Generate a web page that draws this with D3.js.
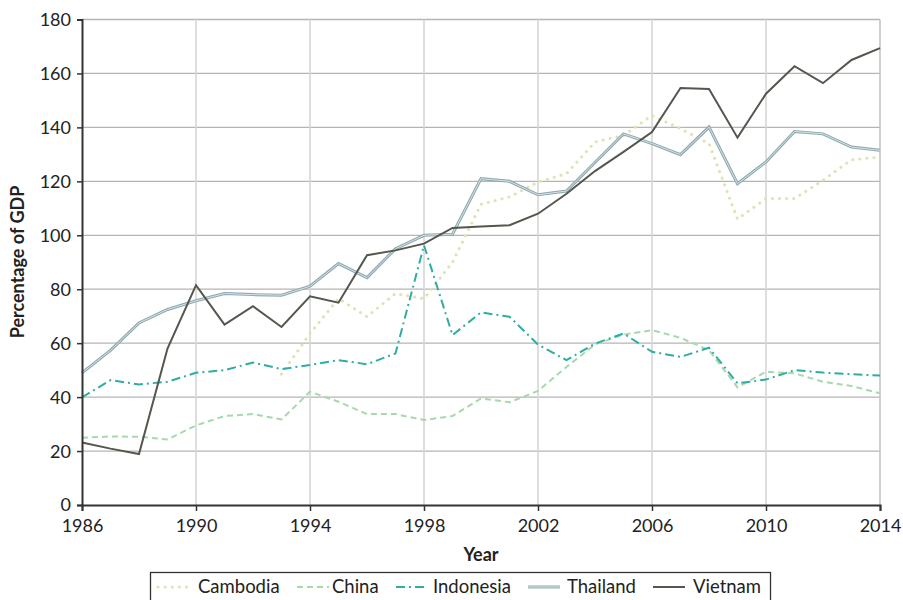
<!DOCTYPE html>
<html>
<head>
<meta charset="utf-8">
<script src="https://cdn.jsdelivr.net/npm/d3@7"></script>
<style>
  html, body { margin: 0; padding: 0; background: #fff; }
  svg { display: block; }
  text { font-family: Lato, "Open Sans", sans-serif; fill: #222; }
</style>
</head>
<body>
<svg id="chart" width="903" height="600"></svg>
<script>
const years = d3.range(1986, 2015);
const xTickValues = [1986, 1990, 1994, 1998, 2002, 2006, 2010, 2014];
const yTickValues = [0, 20, 40, 60, 80, 100, 120, 140, 160, 180];

const cambodia = [null, null, null, null, null, null, null, 48.5, 63.6, 76.5, 69.8, 78.4, 76.5, 90, 111.5, 114.2, 119.7, 122.8, 134.6, 137, 144.4, 139.5, 134, 106, 113.6, 113.6, 120.4, 128, 129];
const china = [24.9, 25.4, 25.3, 24.3, 29.5, 33, 33.7, 31.7, 42, 38.3, 33.7, 33.7, 31.5, 33, 39.5, 38.1, 42.3, 51.2, 59.5, 63.2, 64.8, 62, 57.4, 43.6, 49.4, 48.8, 45.7, 44.1, 41.4];
const indonesia = [39.9, 46.3, 44.7, 45.7, 49, 50, 52.8, 50.4, 51.9, 53.7, 52.2, 56.2, 96.3, 63, 71.4, 69.8, 59.5, 53.7, 59.8, 63.6, 56.8, 54.9, 58.3, 45.1, 46.5, 50, 49.1, 48.5, 48];
const thailand = [49, 57.3, 67.5, 72.5, 75.7, 78.4, 78, 77.8, 81.1, 89.5, 84.3, 95, 100, 100.4, 121, 120, 115, 116.4, 127, 137.6, 134, 129.9, 140.1, 119.1, 127.2, 138.5, 137.6, 132.7, 131.5];
const vietnam = [23.2, 20.9, 18.9, 58, 81.5, 66.9, 73.7, 66, 77.4, 75, 92.6, 94.4, 96.9, 102.7, 103.3, 103.7, 108, 115.4, 123.8, 130.9, 138.3, 154.6, 154.2, 136.2, 152.5, 162.7, 156.4, 165, 169.4];

const seriesNames = ["Cambodia", "China", "Indonesia", "Thailand", "Vietnam"];
const seriesValues = [cambodia, china, indonesia, thailand, vietnam];

const styles = {
  Cambodia: [{ stroke: "#dde3b3", width: 3, dash: "0.1 7", cap: "round" }],
  China: [{ stroke: "#a6d9ab", width: 2, dash: "6 4", cap: "butt" }],
  Indonesia: [{ stroke: "#2fada3", width: 2, dash: "9 4 2 4", cap: "butt" }],
  Thailand: [{ stroke: "#8ea8b0", width: 3, dash: null, cap: "butt" }, { stroke: "#d6e3e6", width: 1, dash: null, cap: "butt" }],
  Vietnam: [{ stroke: "#54574d", width: 2, dash: null, cap: "butt" }]
};

const svg = d3.select("#chart");
const x = d3.scaleLinear().domain([1986, 2014]).range([82, 880]);
const y = d3.scaleLinear().domain([0, 180]).range([505, 19.5]);

// grid
const grid = svg.append("g");
grid.selectAll("line.h").data(yTickValues.filter(v => v > 0)).enter().append("line")
  .attr("x1", x(1986)).attr("x2", x(2014))
  .attr("y1", d => y(d)).attr("y2", d => y(d))
  .attr("stroke", "#b5b5b5").attr("stroke-width", 1.3);
grid.selectAll("line.v").data(xTickValues.filter(v => v > 1986)).enter().append("line")
  .attr("x1", d => x(d)).attr("x2", d => x(d))
  .attr("y1", y(180)).attr("y2", y(0))
  .attr("stroke", d => d === 2014 ? "#c4c4c4" : "#d6d6d6").attr("stroke-width", 1.6);

// lines
const line = d3.line().defined(d => d[1] != null).x(d => x(d[0])).y(d => y(d[1]));
const linesG = svg.append("g");
seriesNames.forEach((name, i) => {
  const pts = years.map((yr, j) => [yr, seriesValues[i][j]]);
  styles[name].forEach(s => {
    linesG.append("path").datum(pts)
      .attr("d", line)
      .attr("fill", "none")
      .attr("stroke", s.stroke)
      .attr("stroke-width", s.width)
      .attr("stroke-dasharray", s.dash)
      .attr("stroke-linecap", s.cap)
      .attr("stroke-linejoin", "miter");
  });
});

// axes
const xAxis = d3.axisBottom(x).tickValues(xTickValues).tickFormat(d3.format("d")).tickSizeOuter(0).tickSize(6).tickPadding(6);
const yAxis = d3.axisLeft(y).tickValues(yTickValues).tickSizeOuter(0).tickSize(5).tickPadding(6);
const gx = svg.append("g").attr("transform", `translate(0,${y(0)})`).call(xAxis);
const gy = svg.append("g").attr("transform", `translate(${x(1986)},0)`).call(yAxis);
[gx, gy].forEach(g => {
  g.select(".domain").attr("stroke", "#333").attr("stroke-width", 2);
  g.selectAll(".tick line").attr("stroke", "#333").attr("stroke-width", 1.5);
  g.selectAll(".tick text").attr("font-size", 18).attr("fill", "#222")
    .style("font-family", 'Lato, "Open Sans", sans-serif');
});
gy.selectAll(".tick text").attr("dy", "0.33em");
gx.selectAll(".tick text").attr("dy", "0.85em");

// axis titles
svg.append("text").attr("x", 481).attr("y", 561).attr("text-anchor", "middle")
  .attr("font-size", 18).attr("font-weight", "bold").text("Year");
svg.append("text").attr("transform", "translate(24,262) rotate(-90)").attr("text-anchor", "middle")
  .attr("font-size", 18).attr("font-weight", "bold").text("Percentage of GDP");

// legend
const legend = svg.append("g");
legend.append("rect").attr("x", 150.5).attr("y", 572.5).attr("width", 620).attr("height", 40)
  .attr("fill", "#fff").attr("stroke", "#333").attr("stroke-width", 1.3);
const legendSample = [158, 297, 396, 528, 653];
const legendText = [198, 332, 433, 567, 693];
seriesNames.forEach((name, i) => {
  styles[name].forEach(s => {
    legend.append("line")
      .attr("x1", legendSample[i]).attr("x2", legendSample[i] + 32)
      .attr("y1", 587).attr("y2", 587)
      .attr("stroke", s.stroke).attr("stroke-width", s.width)
      .attr("stroke-dasharray", s.dash).attr("stroke-linecap", s.cap);
  });
  legend.append("text").attr("x", legendText[i]).attr("y", 593)
    .attr("font-size", 18.5).text(name);
});
</script>
</body>
</html>
